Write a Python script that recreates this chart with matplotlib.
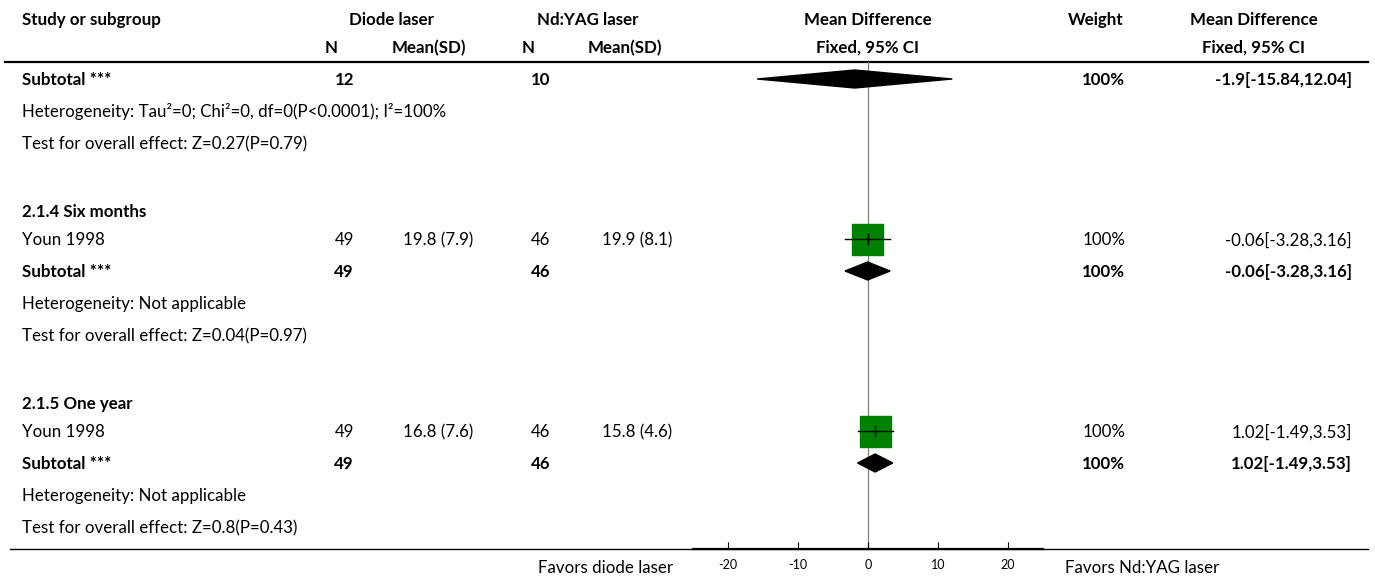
import matplotlib
matplotlib.use("Agg")
import matplotlib.pyplot as plt
from matplotlib.patches import Polygon, Rectangle

plt.rcParams["font.family"] = ["Lato", "DejaVu Sans"]
plt.rcParams["axes.unicode_minus"] = False

# ---- data ----
sub_labels = [None, "2.1.4 Six months", "2.1.5 One year"]
sub_diode_n = [12, 49, 49]
sub_yag_n = [10, 46, 46]
sub_md = [-1.9, -0.06, 1.02]
sub_lo = [-15.84, -3.28, -1.49]
sub_hi = [12.04, 3.16, 3.53]
sub_weight = [100, 100, 100]
sub_het = [
    "Heterogeneity: Tau\u00b2=0; Chi\u00b2=0, df=0(P<0.0001); I\u00b2=100%",
    "Heterogeneity: Not applicable",
    "Heterogeneity: Not applicable",
]
sub_test = [
    "Test for overall effect: Z=0.27(P=0.79)",
    "Test for overall effect: Z=0.04(P=0.97)",
    "Test for overall effect: Z=0.8(P=0.43)",
]

study_group = [1, 2]
study_names = ["Youn 1998", "Youn 1998"]
diode_n = [49, 49]
diode_mean = [19.8, 16.8]
diode_sd = [7.9, 7.6]
yag_n = [46, 46]
yag_mean = [19.9, 15.8]
yag_sd = [8.1, 4.6]
study_md = [-0.06, 1.02]
study_lo = [-3.28, -1.49]
study_hi = [3.16, 3.53]
study_weight = [100, 100]

xticks = [-20, -10, 0, 10, 20]
left_label = "Favors diode laser"
right_label = "Favors Nd:YAG laser"

# ---- layout (pixel rows, top-down) ----
W, H = 1375, 581
FS = 12.2
ROW0, PITCH = 79, 32           # row 0 = first subtotal, one row per line
TXT_DY = 1                     # text sits a hair below the marker centre
HEAD_DY = 5                    # subgroup headings sit a little lower
col = dict(study=22, n1=354, m1=473, n2=550, m2=672, md=868, wt=1125, ci=1352)
GREEN = "#008000"


def row_y(k):
    return ROW0 + PITCH * k


# row index of each subgroup's subtotal line, and of its heading
sub_row = [0, 6, 12]
head_row = [None, 4, 10]
study_row = {1: 5, 2: 11}

fig = plt.figure(figsize=(W / 100, H / 100), dpi=100)
ax = fig.add_axes([0, 0, 1, 1])
ax.set_xlim(0, W)
ax.set_ylim(H, 0)
ax.axis("off")

# forest-plot axes: x in effect units, y in the same pixel rows
fx0, fx1 = 693, 1043
ytop, ybot = 62, 549
fa = fig.add_axes([fx0 / W, (H - ybot) / H, (fx1 - fx0) / W, (ybot - ytop) / H])
fa.set_xlim(-25, 25)
fa.set_ylim(ybot, ytop)
fa.patch.set_alpha(0)
for s in ("top", "left", "right"):
    fa.spines[s].set_visible(False)
fa.spines["bottom"].set_linewidth(1.6)
fa.set_yticks([])
fa.set_xticks(xticks)
fa.tick_params(axis="x", direction="in", length=5, width=0.8, pad=7, labelsize=9)
fa.axvline(0, color="#808080", lw=0.9, zorder=0)


def txt(x, y, s, ha="left", bold=False, size=FS):
    ax.text(x, y, s, ha=ha, va="center", fontsize=size,
            fontweight="bold" if bold else "normal", color="black")


# headers
txt(col["study"], 20, "Study or subgroup", bold=True)
txt(392, 20, "Diode laser", ha="center", bold=True)
txt(588, 20, "Nd:YAG laser", ha="center", bold=True)
txt(col["md"], 20, "Mean Difference", ha="center", bold=True)
txt(1123, 20, "Weight", ha="right", bold=True)
txt(1254, 20, "Mean Difference", ha="center", bold=True)
txt(331, 48, "N", ha="center", bold=True)
txt(429, 48, "Mean(SD)", ha="center", bold=True)
txt(528, 48, "N", ha="center", bold=True)
txt(625, 48, "Mean(SD)", ha="center", bold=True)
txt(col["md"], 48, "Fixed, 95% CI", ha="center", bold=True)
txt(1254, 48, "Fixed, 95% CI", ha="center", bold=True)
ax.plot([5, 1368], [62, 62], color="black", lw=1.6)

# subgroups
for i in range(len(sub_md)):
    y = row_y(sub_row[i])
    ty = y + TXT_DY
    if sub_labels[i]:
        txt(col["study"], row_y(head_row[i]) + HEAD_DY, sub_labels[i], bold=True)
    txt(col["study"], ty, "Subtotal ***", bold=True)
    txt(col["n1"], ty, str(sub_diode_n[i]), ha="right", bold=True)
    txt(col["n2"], ty, str(sub_yag_n[i]), ha="right", bold=True)
    txt(col["wt"], ty, f"{sub_weight[i]}%", ha="right", bold=True)
    txt(col["ci"], ty, f"{sub_md[i]:g}[{sub_lo[i]:g},{sub_hi[i]:g}]", ha="right", bold=True)
    txt(col["study"], ty + PITCH, sub_het[i])
    txt(col["study"], ty + 2 * PITCH, sub_test[i])
    fa.add_patch(Polygon([(sub_lo[i], y), (sub_md[i], y - 9), (sub_hi[i], y), (sub_md[i], y + 9)],
                         closed=True, color="black", zorder=3))

# studies
px_per_unit = (fx1 - fx0) / 50
for j, g in enumerate(study_group):
    y = row_y(study_row[g])
    ty = y + TXT_DY
    txt(col["study"], ty, study_names[j])
    txt(col["n1"], ty, str(diode_n[j]), ha="right")
    txt(col["m1"], ty, f"{diode_mean[j]} ({diode_sd[j]})", ha="right")
    txt(col["n2"], ty, str(yag_n[j]), ha="right")
    txt(col["m2"], ty, f"{yag_mean[j]} ({yag_sd[j]})", ha="right")
    txt(col["wt"], ty, f"{study_weight[j]}%", ha="right")
    txt(col["ci"], ty, f"{study_md[j]:g}[{study_lo[j]:g},{study_hi[j]:g}]", ha="right")
    side = 31 * (study_weight[j] / 100) ** 0.5
    fa.add_patch(Rectangle((study_md[j] - side / 2 / px_per_unit, y - side / 2),
                           side / px_per_unit, side, color=GREEN, zorder=3))
    fa.plot([study_lo[j], study_hi[j]], [y, y], color="black", lw=1, zorder=4)
    fa.plot([study_md[j], study_md[j]], [y - 5, y + 5], color="black", lw=1, zorder=4)

# bottom rule and favours labels
ax.plot([10, 1368], [549, 549], color="black", lw=1)
txt(673, 568, left_label, ha="right")
txt(1065, 568, right_label)

fig.savefig("out.png", dpi=100)
